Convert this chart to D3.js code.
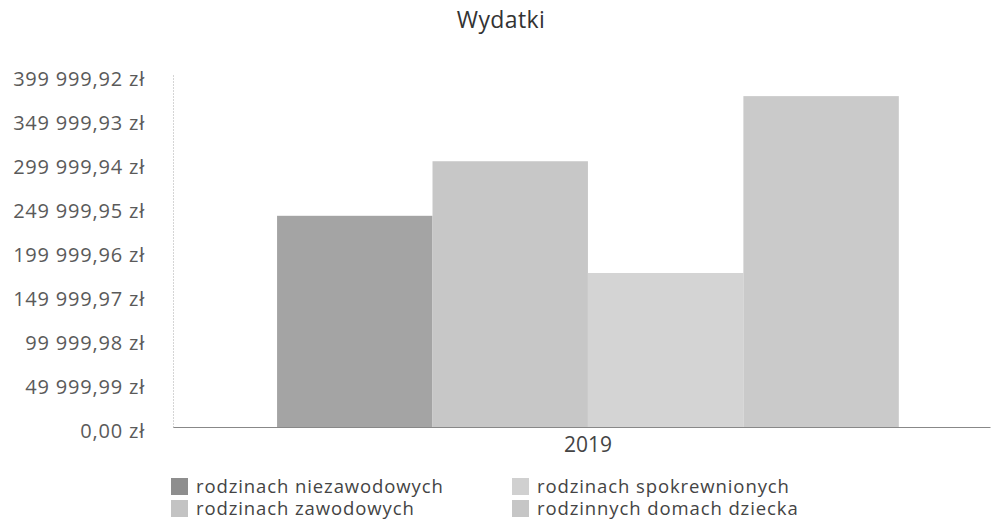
<!DOCTYPE html>
<html>
<head>
<meta charset="utf-8">
<script src="https://cdn.jsdelivr.net/npm/d3@7"></script>
<style>
  body { margin: 0; background: #fff; }
  text { font-family: "Open Sans", "Noto Sans", sans-serif; }
</style>
</head>
<body>
<div id="chart"></div>
<script>
(() => {
  // chart data
  const categories = ["2019"];
  const seriesNames = ["rodzinach niezawodowych", "rodzinach zawodowych", "rodzinach spokrewnionych", "rodzinnych domach dziecka"];
  const seriesValues = [240000, 302000, 175000, 376000];
  const seriesColors = ["#a4a4a4", "#c7c7c7", "#d4d4d4", "#cacaca"];
  const tickValues = [0, 49999.99, 99999.98, 149999.97, 199999.96, 249999.95, 299999.94, 349999.93, 399999.92];

  const width = 992, height = 526;
  const margin = {top: 75, left: 173, bottom: 99, right: 2};

  const svg = d3.select("#chart")
    .append("svg")
    .attr("width", width)
    .attr("height", height);

  // polish currency format
  const pl = d3.formatLocale({decimal: ",", thousands: " ", grouping: [3], currency: ["", " zł"]});
  const fmt = pl.format("$,.2f");

  const y = d3.scaleLinear()
    .domain([0, d3.max(tickValues)])
    .range([height - margin.bottom, margin.top]);

  const x0 = d3.scaleBand()
    .domain(categories)
    .range([margin.left, width - margin.right])
    .paddingInner(0)
    .paddingOuter(0.157)
    .align(0.533);

  const x1 = d3.scaleBand()
    .domain(seriesNames)
    .range([0, x0.bandwidth()]);

  // title
  svg.append("text")
    .attr("x", 501)
    .attr("y", 28)
    .attr("text-anchor", "middle")
    .style("font-size", "23px")
    .style("letter-spacing", "0.4px")
    .style("fill", "#333")
    .text("Wydatki");

  // y axis
  const yAxis = svg.append("g")
    .attr("transform", `translate(${margin.left},0)`)
    .call(d3.axisLeft(y).tickValues(tickValues).tickFormat(fmt).tickSize(0).tickPadding(28));
  yAxis.select(".domain")
    .attr("stroke", "#aaa")
    .attr("stroke-dasharray", "1,2");
  yAxis.selectAll("text")
    .attr("dy", "0.5em")
    .style("font-size", "20px")
    .style("letter-spacing", "0.8px")
    .style("fill", "#5a5a5a")
    .style("font-family", "'Open Sans', sans-serif");

  // bars
  const groups = svg.append("g")
    .selectAll("g")
    .data(categories)
    .join("g")
    .attr("transform", d => `translate(${x0(d)},0)`);

  groups.selectAll("rect")
    .data((d, ci) => seriesNames.map((s, i) => ({name: s, value: seriesValues[i], color: seriesColors[i]})))
    .join("rect")
    .attr("x", d => x1(d.name))
    .attr("y", d => y(d.value))
    .attr("width", x1.bandwidth())
    .attr("height", d => y(0) - y(d.value))
    .attr("fill", d => d.color);

  // x axis
  const xAxis = svg.append("g")
    .attr("transform", `translate(0,${y(0)})`)
    .call(d3.axisBottom(x0).tickSize(0).tickPadding(10));
  xAxis.select(".domain").attr("stroke", "#888").attr("stroke-width", 1.2);
  xAxis.selectAll("text")
    .style("font-size", "21px")
    .style("fill", "#444")
    .style("font-family", "'Open Sans', sans-serif");

  // legend, two columns
  const legend = svg.append("g");
  const item = legend.selectAll("g")
    .data(seriesNames)
    .join("g")
    .attr("transform", (d, i) => `translate(${i < 2 ? 171 : 512},${478 + (i % 2) * 22})`);
  item.append("rect")
    .attr("width", 17)
    .attr("height", 17)
    .attr("fill", (d, i) => d3.color(seriesColors[i]).darker(i === 0 ? 0.4 : 0.05));
  item.append("text")
    .attr("x", 25)
    .attr("y", 15)
    .style("font-size", "18.5px")
    .style("letter-spacing", "0.9px")
    .style("fill", "#444")
    .text(d => d);
})();
</script>
</body>
</html>
